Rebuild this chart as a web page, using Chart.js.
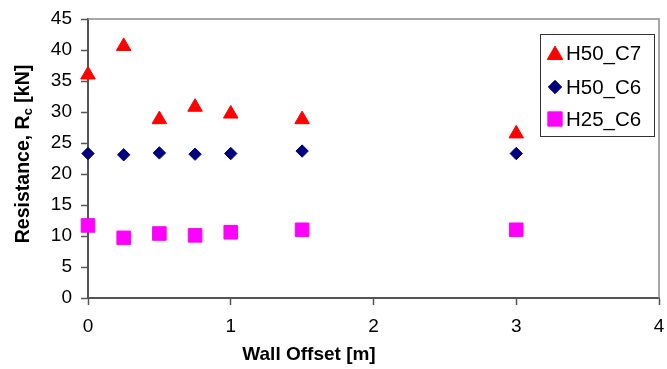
<!DOCTYPE html>
<html><head><meta charset="utf-8">
<style>html,body{margin:0;padding:0;background:#fff}#wrap{width:667px;height:369px}</style>
<script src="https://cdn.jsdelivr.net/npm/chart.js@4/dist/chart.umd.min.js"></script>
</head><body><div id="wrap"><canvas id="c" width="667" height="369"></canvas></div>
<script>
const offsets = [0, 0.25, 0.5, 0.75, 1, 1.5, 3];
const seriesNames = ['H50_C7', 'H50_C6', 'H25_C6'];
const h50c7 = [36.0, 40.6, 28.8, 30.8, 29.7, 28.8, 26.5];
const h50c6 = [23.3, 23.1, 23.4, 23.2, 23.3, 23.7, 23.3];
const h25c6 = [11.7, 9.7, 10.4, 10.1, 10.6, 11.0, 11.0];
const xTicks = [0, 1, 2, 3, 4];
const yTicks = [0, 5, 10, 15, 20, 25, 30, 35, 40, 45];
const xTitle = 'Wall Offset [m]';
const yTitleParts = ['Resistance, R', 'c', ' [kN]'];

const FONT = '"Liberation Sans", Arial, sans-serif';
const AXIS = '#555555';

function pts(vals){ return offsets.map((x,i)=>({x:x, y:vals[i]})); }

const framePlugin = {
  id:'frame',
  beforeDatasetsDraw(chart){
    const {ctx, chartArea:a} = chart;
    ctx.save();
    ctx.strokeStyle = '#8a8a8a'; ctx.lineWidth = 1.5;
    ctx.beginPath();
    ctx.moveTo(a.left, a.top); ctx.lineTo(a.right, a.top); ctx.lineTo(a.right, a.bottom);
    ctx.stroke();
    ctx.restore();
  },
  afterDraw(chart){
    const {ctx} = chart;
    ctx.save();
    ctx.fillStyle = '#000';
    ctx.font = 'bold 19px ' + FONT;
    ctx.textAlign = 'center'; ctx.textBaseline = 'middle';
    ctx.fillText(xTitle, 309, 355);
    ctx.translate(22, 154); ctx.rotate(-Math.PI/2);
    const big = 'bold 19.5px ' + FONT, small = 'bold 13px ' + FONT;
    ctx.font = big; const w1 = ctx.measureText(yTitleParts[0]).width, w3 = ctx.measureText(yTitleParts[2]).width;
    ctx.font = small; const w2 = ctx.measureText(yTitleParts[1]).width;
    let x0 = -(w1+w2+w3)/2;
    ctx.textAlign = 'left'; ctx.textBaseline = 'alphabetic';
    ctx.font = big; ctx.fillText(yTitleParts[0], x0, 7);
    ctx.font = small; ctx.fillText(yTitleParts[1], x0+w1, 10);
    ctx.font = big; ctx.fillText(yTitleParts[2], x0+w1+w2, 7);
    ctx.restore();
    ctx.save();
    ctx.fillStyle = '#fff'; ctx.fillRect(540, 34, 114, 102);
    ctx.strokeStyle = '#333'; ctx.lineWidth = 1;
    ctx.strokeRect(540.5, 34.5, 114, 102);
    const rows = [53, 87, 119];
    chart.data.datasets.forEach((ds, i) => {
      ctx.fillStyle = ds.backgroundColor; ctx.strokeStyle = ds.borderColor; ctx.lineWidth = 1;
      Chart.helpers.drawPoint(ctx, {pointStyle: ds.pointStyle, rotation: 0, radius: ds.pointRadius + 0.5, borderWidth: 1}, 555, rows[i] + (ds.pointStyle==='triangle'?2:0));
      ctx.fillStyle = '#000'; ctx.font = '20.5px ' + FONT;
      ctx.textAlign = 'left'; ctx.textBaseline = 'middle';
      ctx.fillText(ds.label, 566, rows[i] + 1);
    });
    ctx.restore();
  }
};

new Chart(document.getElementById('c'), {
  type: 'scatter',
  data: {
    datasets: [
      {label: seriesNames[0], data: pts(h50c7), pointStyle:'triangle', pointRadius:8.4, backgroundColor:'#ff0000', borderColor:'#ff0000', borderWidth:1, clip:false},
      {label: seriesNames[1], data: pts(h50c6), pointStyle:'rectRot', pointRadius:6.2, backgroundColor:'#000080', borderColor:'#000080', borderWidth:1, clip:false},
      {label: seriesNames[2], data: pts(h25c6), pointStyle:'rect', pointRadius:9.6, backgroundColor:'#ff00ff', borderColor:'#ff00ff', borderWidth:1, clip:false}
    ]
  },
  options: {
    responsive: false, animation: false, devicePixelRatio: 1,
    layout: {autoPadding: false, padding: {left: 0, top: 19, right: 8, bottom: 0}},
    plugins: {legend: {display: false}, tooltip: {enabled: false}},
    scales: {
      x: {
        type: 'linear', min: 0, max: 4,
        afterBuildTicks(s){ s.ticks = xTicks.map(v=>({value:v})); },
        afterFit(s){ s.height = 71; s.paddingLeft = 0; s.paddingRight = 0; },
        ticks: {font: {family: FONT, size: 19}, color: '#000', padding: 10, maxRotation: 0},
        grid: {drawOnChartArea: false, drawTicks: true, tickLength: 7, tickColor: AXIS, tickWidth: 1.5},
        border: {display: true, color: AXIS, width: 2}
      },
      y: {
        min: 0, max: 45,
        afterBuildTicks(s){ s.ticks = yTicks.map(v=>({value:v})); },
        afterFit(s){ s.width = 88; s.paddingTop = 0; s.paddingBottom = 0; },
        ticks: {font: {family: FONT, size: 19}, color: '#000', padding: 9},
        grid: {drawOnChartArea: false, drawTicks: true, tickLength: 7, tickColor: AXIS, tickWidth: 1.5},
        border: {display: true, color: AXIS, width: 2}
      }
    }
  },
  plugins: [framePlugin]
});
</script>
</body></html>
